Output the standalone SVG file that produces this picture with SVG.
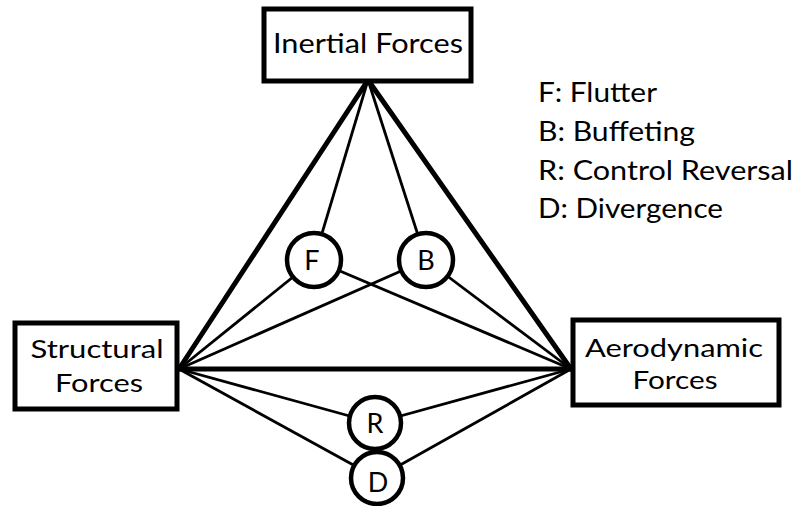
<svg xmlns="http://www.w3.org/2000/svg" width="795" height="506" viewBox="0 0 795 506">
  <style>
    .box { fill: #fff; stroke: #000; stroke-width: 5; }
    .node { fill: #fff; stroke: #000; stroke-width: 4.5; }
    .thick { stroke: #000; stroke-width: 5; stroke-linecap: round; fill: none; }
    .thin { stroke: #000; stroke-width: 2.8; fill: none; }
    text { font-family: Lato, "Open Sans", sans-serif; font-size: 27px; fill: #000; }
    .mid { text-anchor: middle; }
    .two { font-size: 25.5px; }
  </style>
  <rect width="795" height="506" fill="#fff"/>

  <!-- connectors -->
  <g id="connectors">
    <line class="thick" x1="368" y1="80" x2="179" y2="369"/>
    <line class="thick" x1="368" y1="80" x2="571" y2="369"/>
    <line class="thick" x1="179" y1="369" x2="571" y2="369"/>
    <line class="thin" x1="368" y1="80" x2="314" y2="260"/>
    <line class="thin" x1="368" y1="80" x2="426" y2="260"/>
    <line class="thin" x1="179" y1="369" x2="314" y2="260"/>
    <line class="thin" x1="179" y1="369" x2="426" y2="260"/>
    <line class="thin" x1="571" y1="369" x2="314" y2="260"/>
    <line class="thin" x1="571" y1="369" x2="426" y2="260"/>
    <line class="thin" x1="179" y1="369" x2="375" y2="423"/>
    <line class="thin" x1="571" y1="369" x2="375" y2="423"/>
    <line class="thin" x1="179" y1="369" x2="377" y2="478"/>
    <line class="thin" x1="571" y1="369" x2="377" y2="478"/>
  </g>

  <!-- force boxes -->
  <g id="inertial">
    <rect class="box" x="264" y="9" width="207" height="72"/>
    <text class="mid" x="368" y="53" textLength="190" lengthAdjust="spacingAndGlyphs">Inertial Forces</text>
  </g>
  <g id="structural">
    <rect class="box" x="15" y="323" width="162" height="86"/>
    <text class="mid two" x="97" y="358" textLength="133" lengthAdjust="spacingAndGlyphs">Structural</text>
    <text class="mid two" x="99" y="392" textLength="88" lengthAdjust="spacingAndGlyphs">Forces</text>
  </g>
  <g id="aerodynamic">
    <rect class="box" x="573" y="320" width="206" height="85"/>
    <text class="mid two" x="674" y="357" textLength="178" lengthAdjust="spacingAndGlyphs">Aerodynamic</text>
    <text class="mid two" x="675" y="389" textLength="85" lengthAdjust="spacingAndGlyphs">Forces</text>
  </g>

  <!-- phenomena -->
  <g id="flutter">
    <circle class="node" cx="314" cy="260" r="27"/>
    <text class="mid" x="312" y="270">F</text>
  </g>
  <g id="buffeting">
    <circle class="node" cx="426" cy="260" r="27"/>
    <text class="mid" x="426" y="270">B</text>
  </g>
  <g id="reversal">
    <circle class="node" cx="375" cy="423" r="26"/>
    <text class="mid" x="375" y="433">R</text>
  </g>
  <g id="divergence">
    <circle class="node" cx="377" cy="478" r="26"/>
    <text class="mid" x="378" y="492">D</text>
  </g>

  <!-- legend -->
  <g id="legend">
    <text x="538" y="102" textLength="119" lengthAdjust="spacingAndGlyphs">F: Flutter</text>
    <text x="538" y="141" textLength="157" lengthAdjust="spacingAndGlyphs">B: Buffeting</text>
    <text x="538" y="180" textLength="255" lengthAdjust="spacingAndGlyphs">R: Control Reversal</text>
    <text x="538" y="218" textLength="185" lengthAdjust="spacingAndGlyphs">D: Divergence</text>
  </g>
</svg>
